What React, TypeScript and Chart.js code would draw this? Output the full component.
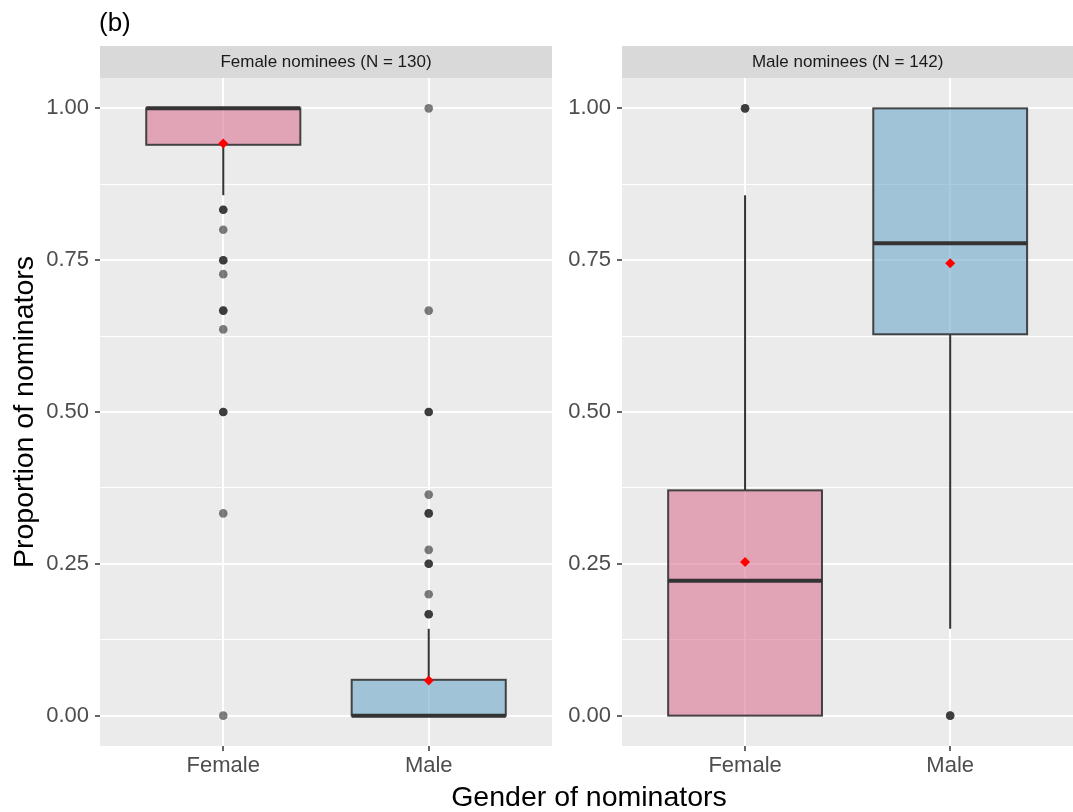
import React, { useEffect, useRef } from 'react';
import { Chart, registerables } from 'chart.js';

Chart.register(...registerables);

const FONT = "'Liberation Sans', Arial, Helvetica, sans-serif";
Chart.defaults.font.family = FONT;

// ---------- data ----------
const categories = ['Female', 'Male'];
const panelTitles = ['Female nominees (N = 130)', 'Male nominees (N = 142)'];
const yMajorTicks = [0, 0.25, 0.5, 0.75, 1];
const yMinorTicks = [0.125, 0.375, 0.625, 0.875];

// Panel 1: Female nominees (index 0 = Female nominators, 1 = Male nominators)
const femNomLower = [0.857, 0];
const femNomQ1 = [0.94, 0];
const femNomMedian = [1.0, 0];
const femNomQ3 = [1.0, 0.059];
const femNomUpper = [1.0, 0.143];
const femNomMean = [0.942, 0.058];
const femNomOutFemale = [0.833, 0.833, 0.8, 0.75, 0.75, 0.727, 0.667, 0.667, 0.636, 0.5, 0.5, 0.333, 0];
const femNomOutMale = [1.0, 0.667, 0.5, 0.5, 0.364, 0.333, 0.333, 0.273, 0.25, 0.25, 0.2, 0.167, 0.167];

// Panel 2: Male nominees
const maleNomLower = [0, 0.143];
const maleNomQ1 = [0, 0.628];
const maleNomMedian = [0.222, 0.778];
const maleNomQ3 = [0.371, 1.0];
const maleNomUpper = [0.857, 1.0];
const maleNomMean = [0.253, 0.745];
const maleNomOutFemale = [1.0, 1.0];
const maleNomOutMale = [0, 0];

const boxFills = ['rgba(218,115,147,0.6)', 'rgba(110,168,203,0.6)'];

// ---------- plugins ----------
const panelBgPlugin = {
  id: 'panelBg',
  beforeDraw(chart: any, _args: any, opts: any) {
    const { ctx, chartArea } = chart;
    const x = chart.scales.x;
    ctx.save();
    ctx.fillStyle = '#EBEBEB';
    ctx.fillRect(chartArea.left, chartArea.top, chartArea.right - chartArea.left, chartArea.bottom - chartArea.top);
    // strip
    ctx.fillStyle = '#D9D9D9';
    ctx.fillRect(chartArea.left, 46, chartArea.right - chartArea.left, chartArea.top - 46);
    const cx = (x.getPixelForValue(0.4) + x.getPixelForValue(2.6)) / 2;
    ctx.fillStyle = '#1A1A1A';
    ctx.font = `17px ${FONT}`;
    ctx.textAlign = 'center';
    ctx.textBaseline = 'middle';
    ctx.fillText(opts.title, cx, 62);
    ctx.restore();
  },
};

const boxPlugin = {
  id: 'boxStats',
  beforeDatasetsDraw(chart: any, _args: any, opts: any) {
    const { ctx } = chart;
    const xs = chart.scales.x;
    const ys = chart.scales.y;
    const { lower, q1, median, q3, upper } = opts;
    ctx.save();
    for (let i = 0; i < lower.length; i++) {
      const xc = xs.getPixelForValue(i + 1);
      const xl = xs.getPixelForValue(i + 1 - 0.375);
      const xr = xs.getPixelForValue(i + 1 + 0.375);
      const yLo = ys.getPixelForValue(lower[i]);
      const yQ1 = ys.getPixelForValue(q1[i]);
      const yMed = ys.getPixelForValue(median[i]);
      const yQ3 = ys.getPixelForValue(q3[i]);
      const yUp = ys.getPixelForValue(upper[i]);
      // whiskers
      ctx.strokeStyle = '#333333';
      ctx.lineWidth = 2;
      ctx.beginPath();
      ctx.moveTo(xc, yLo);
      ctx.lineTo(xc, yQ1);
      ctx.moveTo(xc, yQ3);
      ctx.lineTo(xc, yUp);
      ctx.stroke();
      // box
      ctx.fillStyle = boxFills[i];
      ctx.fillRect(xl, yQ3, xr - xl, yQ1 - yQ3);
      ctx.strokeStyle = 'rgba(51,51,51,0.9)';
      ctx.lineWidth = 2;
      ctx.strokeRect(xl, yQ3, xr - xl, yQ1 - yQ3);
      // median
      ctx.strokeStyle = '#333333';
      ctx.lineWidth = 4;
      ctx.beginPath();
      ctx.moveTo(xl, yMed);
      ctx.lineTo(xr, yMed);
      ctx.stroke();
    }
    ctx.restore();
  },
};

type PanelProps = {
  left: number;
  width: number;
  yAxisWidth: number;
  padRight: number;
  xMax: number;
  title: string;
  showYTitle: boolean;
  lower: number[];
  q1: number[];
  median: number[];
  q3: number[];
  upper: number[];
  mean: number[];
  outliers: number[][];
};

function Panel(p: PanelProps) {
  const ref = useRef<HTMLCanvasElement | null>(null);
  useEffect(() => {
    if (!ref.current) return;
    const outlierPts = p.outliers.flatMap((arr, i) => arr.map((v) => ({ x: i + 1, y: v })));
    const meanPts = p.mean.map((v, i) => ({ x: i + 1, y: v }));
    const chart = new Chart(ref.current, {
      type: 'scatter',
      data: {
        datasets: [
          {
            label: 'outliers',
            data: outlierPts,
            pointRadius: 4.3,
            pointHoverRadius: 4.3,
            backgroundColor: 'rgba(0,0,0,0.5)',
            borderWidth: 0,
          },
          {
            label: 'mean',
            data: meanPts,
            pointStyle: 'rectRot',
            pointRadius: 5,
            pointHoverRadius: 5,
            backgroundColor: '#FF0000',
            borderWidth: 0,
          },
        ],
      },
      options: {
        responsive: false,
        animation: false,
        devicePixelRatio: 1,
        events: [],
        layout: { padding: { top: 78, left: 0, right: p.padRight, bottom: 0 } },
        plugins: {
          legend: { display: false },
          tooltip: { enabled: false },
          panelBg: { title: p.title },
          boxStats: { lower: p.lower, q1: p.q1, median: p.median, q3: p.q3, upper: p.upper },
        } as any,
        scales: {
          x: {
            type: 'linear',
            min: 0.4,
            max: p.xMax,
            afterBuildTicks: (s: any) => {
              s.ticks = categories.map((_, i) => ({ value: i + 1 }));
            },
            afterFit: (s: any) => {
              s.height = 66;
            },
            ticks: {
              callback: (v: any) => categories[Math.round(v) - 1] ?? '',
              font: { size: 22, family: FONT },
              color: '#4D4D4D',
              padding: 2,
              autoSkip: false,
              maxRotation: 0,
            },
            grid: { color: '#FFFFFF', lineWidth: 2, tickColor: '#333333', tickLength: 5, tickWidth: 1.5 },
            border: { display: false },
          },
          y: {
            type: 'linear',
            min: -0.05,
            max: 1.05,
            afterBuildTicks: (s: any) => {
              s.ticks = [...yMajorTicks, ...yMinorTicks].sort((a, b) => a - b).map((v) => ({ value: v }));
            },
            afterFit: (s: any) => {
              s.width = p.yAxisWidth;
            },
            ticks: {
              callback: (v: any) => (yMajorTicks.includes(v) ? Number(v).toFixed(2) : ''),
              font: { size: 22, family: FONT },
              color: '#4D4D4D',
              padding: 6,
              autoSkip: false,
            },
            grid: {
              color: '#FFFFFF',
              lineWidth: (c: any) => (c.tick && yMajorTicks.includes(c.tick.value) ? 2 : 1),
              tickColor: (c: any) => (c.tick && yMajorTicks.includes(c.tick.value) ? '#333333' : 'rgba(0,0,0,0)'),
              tickLength: 5,
              tickWidth: 1.5,
            },
            border: { display: false },
            title: {
              display: p.showYTitle,
              text: 'Proportion of nominators',
              font: { size: 28.5, family: FONT },
              color: '#000000',
              padding: { top: 8, bottom: 0 },
            },
          },
        },
      } as any,
      plugins: [panelBgPlugin, boxPlugin],
    });
    return () => chart.destroy();
  }, []);
  return (
    <canvas
      ref={ref}
      width={p.width}
      height={812}
      style={{ position: 'absolute', left: p.left, top: 0, width: p.width, height: 812, display: 'block' }}
    />
  );
}

export default function App() {
  useEffect(() => {
    const prevHtml = document.documentElement.style.overflow;
    const prevBody = document.body.style.overflow;
    document.documentElement.style.overflow = 'hidden';
    document.body.style.overflow = 'hidden';
    return () => {
      document.documentElement.style.overflow = prevHtml;
      document.body.style.overflow = prevBody;
    };
  }, []);
  return (
    <div
      style={{
        position: 'fixed',
        left: 0,
        top: 0,
        width: 1110,
        height: 812,
        overflow: 'hidden',
        background: '#FFFFFF',
        fontFamily: FONT,
      }}
    >
      <Panel
        left={0}
        width={557}
        yAxisWidth={100}
        padRight={1}
        xMax={2.6}
        title={panelTitles[0]}
        showYTitle={true}
        lower={femNomLower}
        q1={femNomQ1}
        median={femNomMedian}
        q3={femNomQ3}
        upper={femNomUpper}
        mean={femNomMean}
        outliers={[femNomOutFemale, femNomOutMale]}
      />
      <Panel
        left={557}
        width={543}
        yAxisWidth={65}
        padRight={0}
        xMax={2.706}
        title={panelTitles[1]}
        showYTitle={false}
        lower={maleNomLower}
        q1={maleNomQ1}
        median={maleNomMedian}
        q3={maleNomQ3}
        upper={maleNomUpper}
        mean={maleNomMean}
        outliers={[maleNomOutFemale, maleNomOutMale]}
      />
      <div
        style={{
          position: 'absolute',
          left: 99,
          top: 9,
          fontSize: 26,
          lineHeight: '26px',
          color: '#000000',
          whiteSpace: 'nowrap',
        }}
      >
        (b)
      </div>
      <div
        style={{
          position: 'absolute',
          left: 589,
          top: 780,
          transform: 'translateX(-50%)',
          fontSize: 28.5,
          lineHeight: '32px',
          color: '#000000',
          whiteSpace: 'nowrap',
        }}
      >
        Gender of nominators
      </div>
    </div>
  );
}
